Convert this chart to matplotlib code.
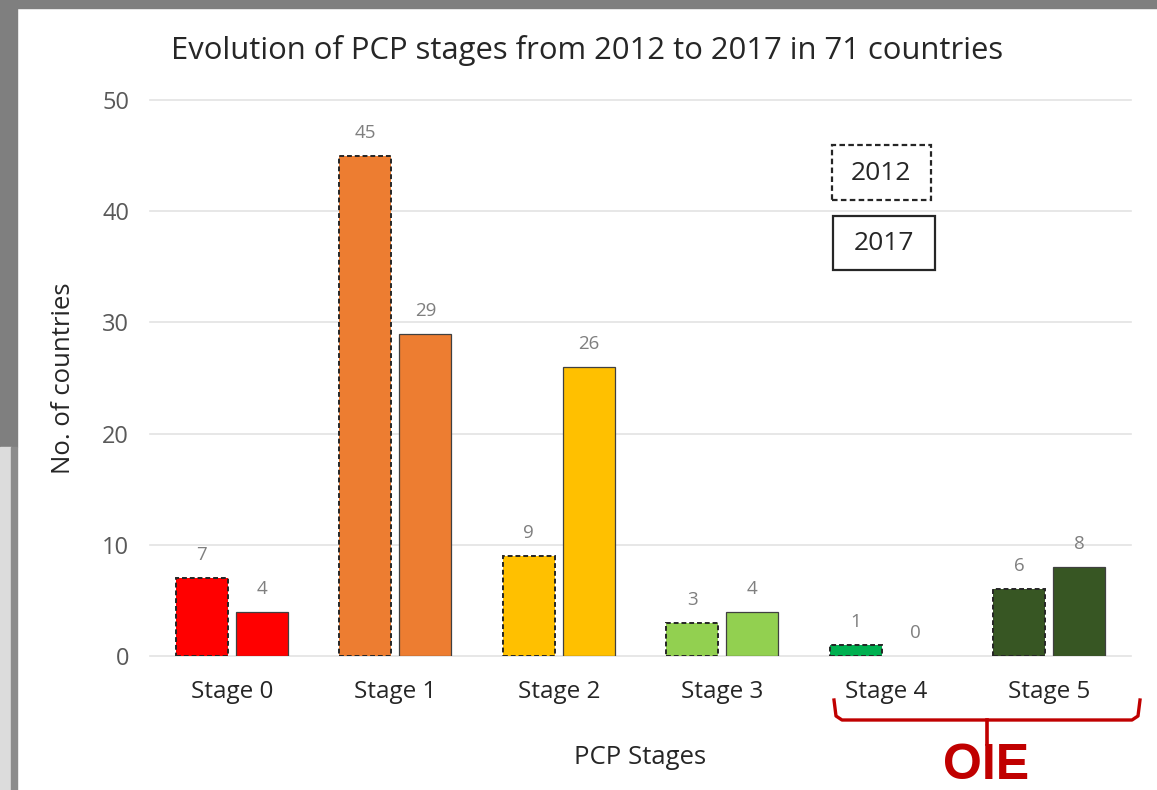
"""Evolution of PCP stages from 2012 to 2017 (grouped bar chart)."""

import matplotlib

matplotlib.use("Agg")
import matplotlib.pyplot as plt
import numpy as np
from matplotlib.lines import Line2D
from matplotlib.patches import Rectangle

W, H = 1157, 790

STAGES = ["Stage 0", "Stage 1", "Stage 2", "Stage 3", "Stage 4", "Stage 5"]
VALUES_2012 = [7, 45, 9, 3, 1, 6]
VALUES_2017 = [4, 29, 26, 4, 0, 8]
STAGE_COLORS = ["#FF0000", "#ED7D31", "#FFC000", "#92D050", "#00B050", "#375623"]
YEARS = ["2012", "2017"]

plt.rcParams["font.family"] = ["Open Sans", "DejaVu Sans"]


def fx(x):
    return x / W


def fy(y):
    return 1 - y / H


def main() -> None:
    fig = plt.figure(figsize=(W / 100, H / 100), dpi=100)

    # grey screenshot frame
    fig.patches.append(Rectangle((0, fy(8)), 1, 8 / H, transform=fig.transFigure,
                                 color="#7F7F7F", zorder=0))
    fig.patches.append(Rectangle((0, fy(447)), fx(17), 447 / H, transform=fig.transFigure,
                                 color="#7F7F7F", zorder=0))
    fig.patches.append(Rectangle((0, 0), fx(11), 1 - 447 / H, transform=fig.transFigure,
                                 color="#DCDCDC", zorder=0))
    fig.patches.append(Rectangle((fx(11), 0), fx(6), 1 - 447 / H, transform=fig.transFigure,
                                 color="#8C8C8C", zorder=0))

    ax = fig.add_axes([fx(150), fy(656), fx(1131) - fx(150), fy(100) - fy(656)])
    x = np.arange(len(STAGES))
    width = 0.318
    offset = 0.184

    bars_2012 = ax.bar(x - offset, VALUES_2012, width, color=STAGE_COLORS,
                       edgecolor="#262626", linestyle=(0, (2.5, 1.5)),
                       linewidth=[1.4 if v > 0 else 0 for v in VALUES_2012], zorder=3)
    bars_2017 = ax.bar(x + offset, VALUES_2017, width, color=STAGE_COLORS,
                       edgecolor="#404040",
                       linewidth=[0.9 if v > 0 else 0 for v in VALUES_2017], zorder=3)
    for bars in (bars_2012, bars_2017):
        ax.bar_label(bars, padding=10, color="#7F7F7F", fontsize=13.5)

    ax.set_xlim(-0.5, len(STAGES) - 0.5)
    ax.set_ylim(0, 50)
    ax.set_yticks(range(0, 51, 10))
    ax.set_xticks(x)
    ax.set_xticklabels(STAGES)
    ax.grid(axis="y", color="#E3E3E3", linewidth=1.2, zorder=0)
    ax.set_axisbelow(True)
    for spine in ax.spines.values():
        spine.set_visible(False)
    ax.tick_params(axis="both", length=0, colors="#404040")
    ax.tick_params(axis="x", pad=17, labelsize=17.5, labelcolor="#262626")
    ax.tick_params(axis="y", pad=15, labelsize=17, labelcolor="#595959")
    for gl in ax.get_ygridlines():
        gl.set_clip_on(False)

    ax.set_xlabel("PCP Stages", fontsize=18.5, color="#262626", labelpad=30)
    ax.set_ylabel("No. of countries", fontsize=18.5, color="#262626", labelpad=19)
    fig.text(fx(587), fy(50), "Evolution of PCP stages from 2012 to 2017 in 71 countries",
             ha="center", va="center", fontsize=22.3, color="#262626")

    # year boxes
    fig.patches.append(Rectangle((fx(832), fy(200)), fx(931) - fx(832), fy(145) - fy(200),
                                 transform=fig.transFigure, fill=False, edgecolor="#262626",
                                 linestyle=(0, (2.5, 1.5)), linewidth=1.6, zorder=5))
    fig.patches.append(Rectangle((fx(833), fy(270)), fx(935) - fx(833), fy(216) - fy(270),
                                 transform=fig.transFigure, fill=False, edgecolor="#262626",
                                 linewidth=1.6, zorder=5))
    fig.text(fx(881), fy(173), YEARS[0], ha="center", va="center", fontsize=19, color="#262626")
    fig.text(fx(884), fy(243), YEARS[1], ha="center", va="center", fontsize=19, color="#262626")

    # OIE bracket
    red = "#C00000"
    bx = [fx(834), fx(836), fx(842), fx(1132), fx(1138), fx(1140)]
    by = [fy(700), fy(716), fy(720), fy(720), fy(716), fy(700)]
    fig.lines.append(Line2D(bx, by, transform=fig.transFigure, color=red, linewidth=2.4,
                            solid_joinstyle="round"))
    fig.lines.append(Line2D([fx(987), fx(987)], [fy(720), fy(744)], transform=fig.transFigure,
                            color=red, linewidth=2.6))
    fig.text(fx(986), fy(779), "OIE", ha="center", va="baseline", fontsize=36,
             fontweight="bold", color=red, family="Liberation Sans")

    fig.savefig("out.png", dpi=100)
    plt.close(fig)


if __name__ == "__main__":
    main()
